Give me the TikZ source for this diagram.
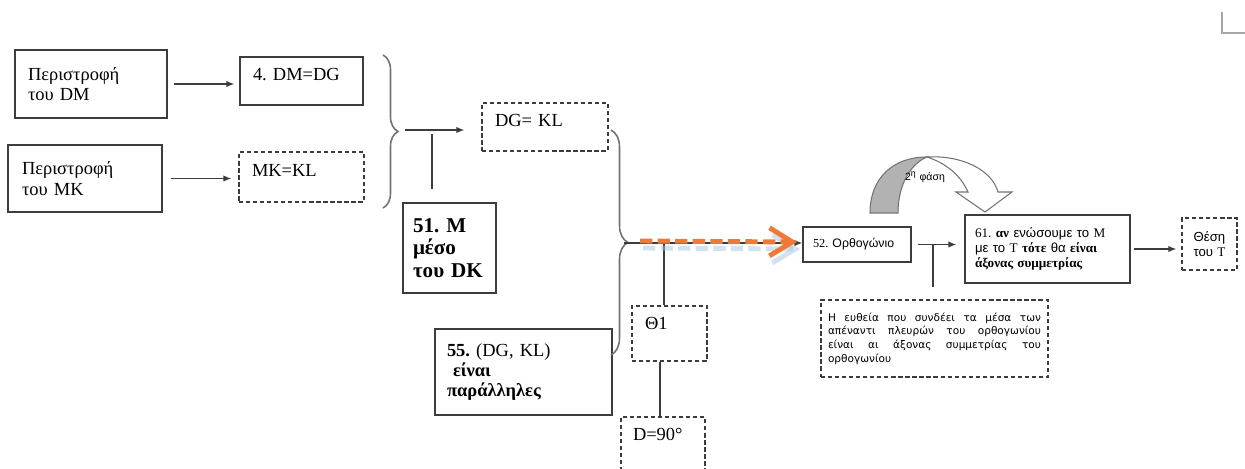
\documentclass[tikz,border=0pt]{standalone}
\usepackage{fontspec}
\setmainfont{Liberation Serif}
\newfontfamily\grsans{Liberation Sans}
\newfontfamily\notefont{DejaVu Sans}
\usepackage{xcolor}
\usepackage{tikz}
\usetikzlibrary{positioning,arrows.meta,decorations.pathreplacing}
\definecolor{edge}{HTML}{3C3C3C}
\definecolor{phase}{HTML}{F07A35}
\definecolor{shade}{HTML}{A9C4DE}
\newcommand\txtbig{\fontsize{10.5}{11.5}\selectfont}
\newcommand\txtbold{\fontsize{12}{13}\selectfont\bfseries}
\newcommand\txtsmall{\fontsize{7.5}{8.5}\selectfont}
\newcommand\txtnote{\notefont\fontsize{6}{7.8}\selectfont}
\frenchspacing

\begin{document}
\begin{tikzpicture}[x=0.02cm,y=-0.02cm,
  box/.style={draw=edge,line width=0.8pt,align=left,inner ysep=0pt},
  dbox/.style={box,dash pattern=on 2.4pt off 1.6pt},
  lift/.style={text depth=#1},
  link/.style={draw=edge,line width=0.7pt},
  arr/.style={link,-{Latex[length=4.5pt,width=3.6pt]}},
  brc/.style={draw=black!55,line width=0.9pt,decorate,decoration={brace,amplitude=#1}},
  phasearrow/.style={draw=phase,line width=2.8pt,dash pattern=on 7pt off 3pt,-{Straight Barb[length=13pt,width=16pt]}},
  shadeline/.style={phasearrow,draw=shade,opacity=0.5},
  phaseshape/.style={draw=black!55,line width=0.6pt}]
  \useasboundingbox (0,0) rectangle (1245,469);

  % first column
  \node[box,font=\txtbig,text width=2.52cm,inner xsep=0.26cm,minimum height=1.36cm] (rotDM) at (91,84) {Περιστροφή\\του DM};
  \node[box,font=\txtbig,text width=2.52cm,inner xsep=0.28cm,minimum height=1.34cm] (rotMK) at (85,178.5) {Περιστροφή\\του MK};

  % equalities
  \node[box,font=\txtbig,text width=1.94cm,inner xsep=0.26cm,minimum height=0.96cm,lift=7pt] (eqDMDG) at (301.5,81) {4. DM=DG};
  \node[dbox,font=\txtbig,text width=1.98cm,inner xsep=0.26cm,minimum height=1cm,lift=8pt] (eqMKKL) at (301.5,177) {MK=KL};
  \node[dbox,font=\txtbig,text width=2cm,inner xsep=0.26cm,minimum height=0.96cm,lift=8pt] (eqDGKL) at (545,127) {DG= KL};
  \node[box,font=\txtbold,text width=1.46cm,inner xsep=0.2cm,minimum height=1.8cm] (mid51) at (449.5,248) {51. M\\μέσο\\του DK};
  \node[box,font=\txtbig,text width=3.06cm,inner xsep=0.24cm,minimum height=1.72cm] (par55) at (523.5,372) {\textbf{55.} (DG, KL)\\\hspace*{0.12cm}\textbf{είναι}\\\textbf{παράλληλες}};
  \node[dbox,font=\txtbig,text width=0.98cm,inner xsep=0.26cm,minimum height=1.1cm,lift=11pt] (th1) at (669.5,333.5) {Θ1};
  \node[dbox,font=\txtbig,text width=1.2cm,inner xsep=0.24cm,minimum height=1.12cm,lift=12pt] (d90) at (663,445) {D=90°};

  % second phase
  \node[box,font=\fontsize{7}{8}\selectfont,text width=1.9cm,inner xsep=0.13cm,minimum height=0.7cm] (rect52) at (857,244.5) {\hspace*{0.07cm}52. {\grsans Ορθογώνιο}};
  \node[box,font=\txtsmall,text width=2.9cm,inner xsep=0.2cm,minimum height=1.36cm] (box61) at (1047.5,249) {61. \textbf{αν} {\grsans ενώσουμε το} M\\{\grsans με το} T \textbf{τότε} {\grsans θα} \textbf{είναι}\\\textbf{άξονας συμμετρίας}};
  \node[dbox,font=\txtsmall,align=center,text width=0.9cm,inner xsep=0.1cm,minimum height=1.04cm] (posT) at (1209.5,244) {{\grsans Θέση}\\{\grsans του} T};
  \node[dbox,font=\txtnote,align=justify,text width=4.26cm,inner xsep=0.14cm,minimum height=1.54cm] (note) at (934.5,338.5) {Η ευθεία που συνδέει τα μέσα των\linebreak απέναντι πλευρών του ορθογωνίου\linebreak είναι αι άξονας συμμετρίας του\linebreak ορθογωνίου};

  % arrows of the first phase
  \draw[arr,shorten <=0.12cm,shorten >=0.1cm] (rotDM.east) -- (rotDM.east -| eqDMDG.west);
  \draw[arr,shorten <=0.16cm,shorten >=0.14cm] (rotMK.east) -- (rotMK.east -| eqMKKL.west);
  \coordinate (b1top) at (383,55);
  \coordinate (b1bot) at (383,208);
  \draw[brc=0.3cm] (b1top) -- (b1bot);
  \coordinate (j1) at (405,130);
  \draw[arr,shorten >=0.34cm] (j1) -- (j1 -| eqDGKL.west);
  \coordinate (k1) at (432,134);
  \draw[link,shorten >=0.26cm] (k1) -- (k1 |- mid51.north);
  \coordinate (b2top) at (611,130);
  \coordinate (b2bot) at (611,355);
  \draw[brc=0.34cm] (b2top) -- (b2bot);
  \coordinate (b2tip) at (624,243);
  \coordinate (j2) at (664,243);
  \draw[arr] (j2) -- (j2 -| rect52.west);
  \draw[link] (b2tip) -- (j2) -- (j2 |- th1.north);
  \draw[link] ([xshift=-0.19cm]th1.south) -- ([xshift=-0.19cm]th1.south |- d90.north);

  % orange arrow
  \coordinate (o1) at (640,241);
  \coordinate (o2) at (797,242);
  \draw[shadeline] ([shift={(3,7)}]o1) -- ([shift={(3,7)}]o2);
  \draw[phasearrow] (o1) -- (o2);

  % arrows of the second phase
  \draw[arr,shorten <=0.12cm,shorten >=0.16cm] (rect52.east) -- (rect52.east -| box61.west);
  \coordinate (k2) at (933,244.5);
  \draw[link,shorten >=0.24cm] (k2) -- (k2 |- note.north);
  \draw[arr,shorten <=0.06cm,shorten >=0.1cm] (box61.east) -- (box61.east -| posT.west);

  % curved arrow
  \filldraw[phaseshape,fill=black!30] (870,213) .. controls (870,178) and (893,157) .. (927,157) .. controls (912,163) and (898,183) .. (898,213) -- cycle;
  \filldraw[phaseshape,fill=white] (927,157) .. controls (962,155) and (992,170) .. (998,192) -- (1012,192) -- (985,212) -- (956,192) -- (968,192) .. controls (960,174) and (945,163) .. (927,157) -- cycle;
  \node[font=\grsans\fontsize{6}{7}\selectfont,inner sep=0pt] (phaseLbl) at (925,177) {2\textsuperscript{η} φάση};

  % page corner
  \draw[black!35,line width=0.8pt] (1222,12) -- (1222,33) -- (1245,33);
\end{tikzpicture}
\end{document}
